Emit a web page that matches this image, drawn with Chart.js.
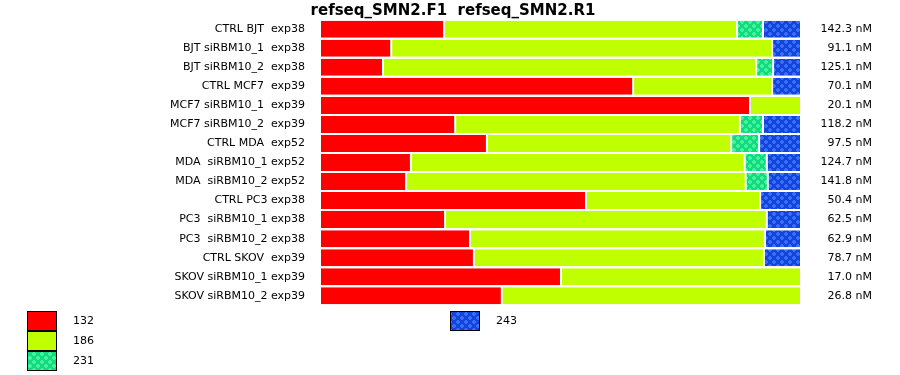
<!DOCTYPE html>
<html>
<head>
<meta charset="utf-8">
<script src="https://cdn.jsdelivr.net/npm/chart.js@4"></script>
<style>
  body{margin:0;background:#fff;}
  #wrap{width:900px;height:375px;}
</style>
</head>
<body>
<div id="wrap"><canvas id="chart" width="900" height="375"></canvas></div>
<script>
// -------------------- Datos --------------------
const samples = [
    'CTRL BJT  exp38', 'BJT siRBM10_1  exp38', 'BJT siRBM10_2  exp38',
    'CTRL MCF7  exp39', 'MCF7 siRBM10_1  exp39', 'MCF7 siRBM10_2  exp39',
    'CTRL MDA  exp52', 'MDA  siRBM10_1 exp52', 'MDA  siRBM10_2 exp52',
    'CTRL PC3 exp38', 'PC3  siRBM10_1 exp38', 'PC3  siRBM10_2 exp38',
    'CTRL SKOV  exp39', 'SKOV siRBM10_1 exp39', 'SKOV siRBM10_2 exp39'
];
const concentrations = [
    '142.3 nM', '91.1 nM', '125.1 nM', '70.1 nM', '20.1 nM', '118.2 nM', '97.5 nM',
    '124.7 nM', '141.8 nM', '50.4 nM', '62.5 nM', '62.9 nM', '78.7 nM', '17.0 nM', '26.8 nM'
];
const sizeLabels = ['132', '186', '231', '243'];

// porcentaje de cada tamaño por muestra
const size132 = [25.8, 14.8, 13.1, 65.1, 89.4, 28.1, 34.7, 18.9, 17.9, 55.3, 26.0, 31.2, 32.0, 50.1, 37.8];
const size186 = [60.9, 79.2, 77.6, 28.9, 10.6, 59.2, 50.8, 69.4, 70.6, 36.2, 66.9, 61.3, 60.3, 49.9, 62.2];
const size231 = [5.4, null, 3.5, null, null, 4.8, 5.8, 4.6, 4.6, null, null, null, null, null, null];
const size243 = [7.9, 6.0, 5.8, 6.0, null, 7.9, 8.7, 7.1, 6.9, 8.5, 7.1, 7.5, 7.7, null, null];

// -------------------- Patrones --------------------
function dotPattern(bg, dot){
    const c = document.createElement('canvas');
    c.width = 8; c.height = 8;
    const g = c.getContext('2d');
    g.fillStyle = bg; g.fillRect(0,0,8,8);
    g.fillStyle = dot;
    [[2,2],[6,6]].forEach(([x,y])=>{
        g.fillRect(x-2, y-1, 4, 2);
        g.fillRect(x-1, y-2, 2, 4);
    });
    return document.getElementById('chart').getContext('2d').createPattern(c, 'repeat');
}

const fills = [
    '#ff0000',
    '#c0ff00',
    dotPattern('#10dc7c', '#48f0a4'),
    dotPattern('#1444dc', '#3470f8')
];

// -------------------- Leyenda --------------------
const legendBoxes = {
    id:'legendBoxes',
    afterDraw(chart){
        const ctx = chart.ctx;
        const pos = [[27,311],[27,331],[27,351],[450,311]];
        ctx.save();
        ctx.font = '11px "DejaVu Sans"';
        ctx.textBaseline = 'middle';
        ctx.textAlign = 'left';
        chart.data.datasets.forEach((ds,i)=>{
            const [x,y] = pos[i];
            ctx.fillStyle = ds.backgroundColor;
            ctx.fillRect(x, y, 30, 20);
            ctx.strokeStyle = '#000';
            ctx.lineWidth = 1;
            ctx.strokeRect(x+0.5, y+0.5, 29, 19);
            ctx.fillStyle = '#000';
            ctx.fillText(ds.label, x+46, y+10.5);
        });
        ctx.restore();
    }
};

// -------------------- Gráfico --------------------
Chart.defaults.font.family = '"DejaVu Sans", sans-serif';
Chart.defaults.font.size = 11;
Chart.defaults.color = '#000';

const series = [size132, size186, size231, size243];

new Chart(document.getElementById('chart'), {
    type:'bar',
    data:{
        labels: samples,
        datasets: series.map((d,i)=>({
            label: sizeLabels[i],
            data: d,
            backgroundColor: fills[i],
            borderColor: '#fff',
            borderWidth: {left:1, right:1, top:0, bottom:0},
            borderSkipped: false,
            categoryPercentage: 1,
            barPercentage: 0.893
        }))
    },
    options:{
        indexAxis:'y',
        responsive:false,
        animation:false,
        events:[],
        layout:{ padding:{ left:34, right:28, top:0, bottom:69.7 } },
        plugins:{
            legend:{ display:false },
            tooltip:{ enabled:false },
            title:{
                display:true,
                text:'refseq_SMN2.F1  refseq_SMN2.R1',
                font:{ size:15, weight:'bold' },
                color:'#000',
                padding:{ top:1.7, bottom:0 }
            }
        },
        scales:{
            x:{ stacked:true, min:0, max:100, display:false },
            y:{
                stacked:true,
                grid:{ display:false, drawTicks:true, tickLength:15 },
                border:{ display:false },
                ticks:{ padding:0, autoSkip:false },
                afterFit(s){ s.width = 286; }
            },
            y2:{
                type:'category',
                position:'right',
                labels: concentrations,
                offset:true,
                grid:{ display:false, drawTicks:false },
                border:{ display:false },
                ticks:{ padding:0, crossAlign:'far', autoSkip:false },
                afterFit(s){ s.width = 71; }
            }
        }
    },
    plugins:[legendBoxes]
});
</script>
</body>
</html>
